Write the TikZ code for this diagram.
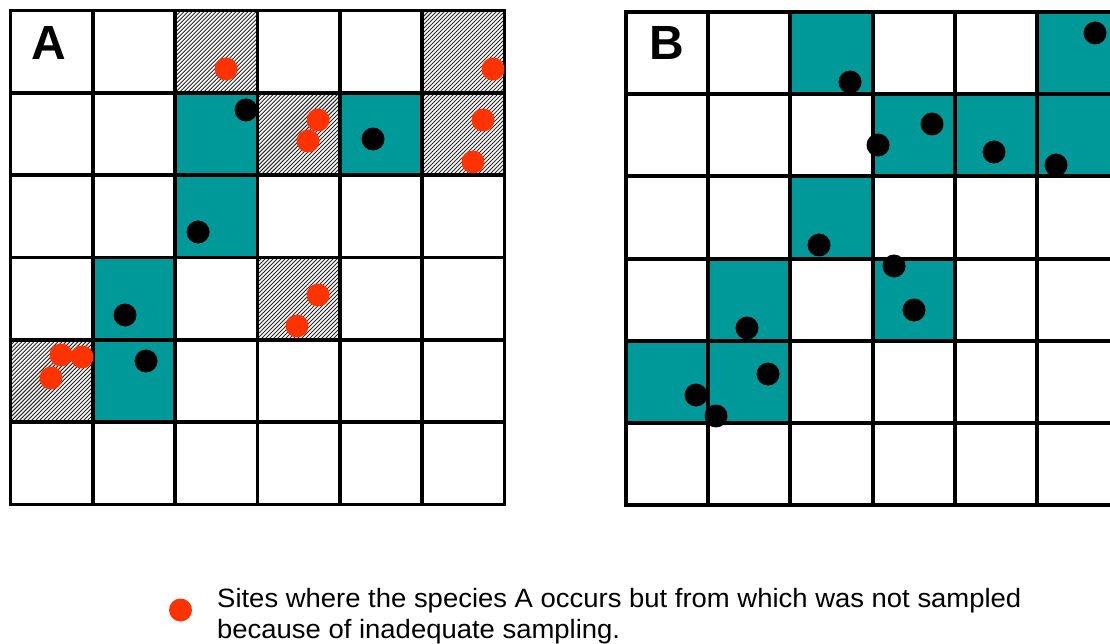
\documentclass[tikz,border=0pt]{standalone}
\usepackage{fontspec}
\setmainfont{Liberation Sans}
\usetikzlibrary{patterns.meta}
\definecolor{tealcol}{HTML}{009999}
\definecolor{redcol}{HTML}{FF3300}
\begin{document}
\begin{tikzpicture}[x=1pt,y=-1pt,
  gridline/.style={line width=3.9pt, black, line cap=rect},
  tealcell/.style={fill=tealcol},
  hatchcell/.style={fill=white, postaction={pattern={Lines[angle=45,distance=2.83pt,line width=0.9pt]}, pattern color=black!85}},
  reddot/.style={fill=redcol},
  blackdot/.style={fill=black},
  panellabel/.style={font=\bfseries\fontsize{48}{48}\selectfont, inner sep=0pt},
  legendtext/.style={font=\fontsize{26.5}{31}\selectfont, anchor=base west, inner sep=0pt},
]
\useasboundingbox (0,0) rectangle (1110,644);
\clip (0,0) rectangle (1110,644);
\fill[white] (0,0) rectangle (1110,644);

% ---------- Panel A ----------
\def\ax{10.5}\def\ay{10.5}\def\ac{82.33}
\foreach \r/\c in {0/2,0/5,1/3,1/5,3/3,4/0}
  \path[hatchcell] ({\ax+\c*\ac},{\ay+\r*\ac}) rectangle ++(\ac,\ac);
\foreach \r/\c in {1/2,1/4,2/2,3/1,4/1}
  \fill[tealcell] ({\ax+\c*\ac},{\ay+\r*\ac}) rectangle ++(\ac,\ac);
\foreach \i in {0,...,6} {
  \draw[gridline] ({\ax+\i*\ac},\ay) -- ({\ax+\i*\ac},{\ay+6*\ac});
  \draw[gridline] (\ax,{\ay+\i*\ac}) -- ({\ax+6*\ac},{\ay+\i*\ac});
}
\node[panellabel] (labelA) at (48.5,43) {A};
\foreach \x/\y in {226/69,493/69,318/120,308/141,483/120,473/162,318/295,297/326,61/355,82/357,51/378}
  \fill[reddot] (\x,\y) circle[radius=11.5];
\foreach \x/\y in {246/110,373/139,198/232,125/315,146/361}
  \fill[blackdot] (\x,\y) circle[radius=11.5];

% ---------- Panel B ----------
\def\bx{626}\def\by{12}\def\bc{82.2}
\foreach \r/\c in {0/2,0/5,1/3,1/4,1/5,2/2,3/1,3/3,4/0,4/1}
  \fill[tealcell] ({\bx+\c*\bc},{\by+\r*\bc}) rectangle ++(\bc,\bc);
\foreach \i in {0,...,6} {
  \draw[gridline] ({\bx+\i*\bc},\by) -- ({\bx+\i*\bc},{\by+6*\bc});
  \draw[gridline] (\bx,{\by+\i*\bc}) -- ({\bx+6*\bc},{\by+\i*\bc});
}
\node[panellabel] (labelB) at (666.5,43) {B};
\foreach \x/\y in {850/82,1095/33,878/145,932/124,994/152,1056/165,819/245,894/266,914/310,747/328,768/374,696/395,716/416}
  \fill[blackdot] (\x,\y) circle[radius=11.5];

% ---------- Legend ----------
\fill[reddot] (180.5,610) circle[radius=11.5];
\node[legendtext] (leg1) at (217,607) {\scalebox{1.036}[1]{Sites where the species A occurs but from which was not sampled}};
\node[legendtext] (leg2) at (217,638) {\scalebox{1.036}[1]{because of inadequate sampling.}};
\end{tikzpicture}
\end{document}
